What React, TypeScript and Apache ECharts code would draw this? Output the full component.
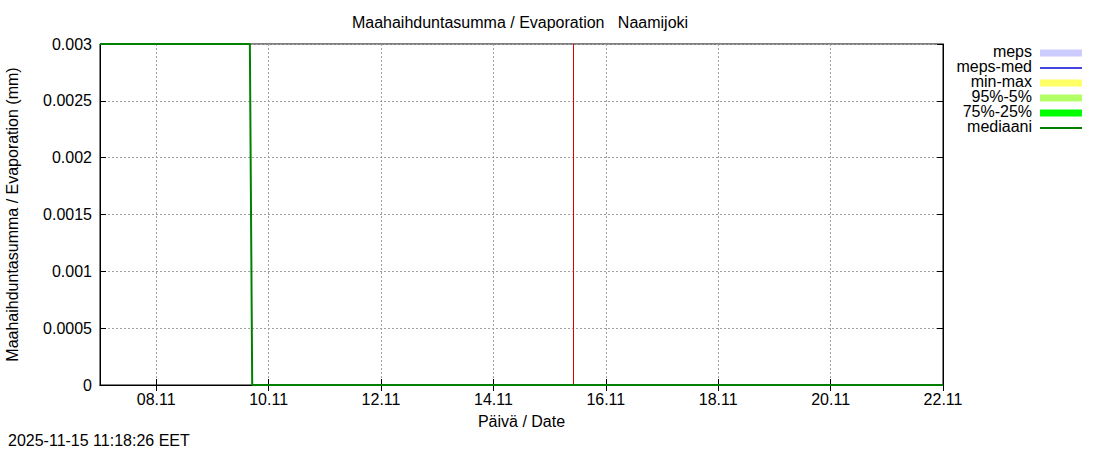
import React, { useEffect, useRef } from 'react';
import * as echarts from 'echarts';

// hourly time axis, 07.11 00:00 .. 22.11 00:00
const startDay = Date.UTC(2025, 10, 7);
const hours: string[] = [];
for (let h = 0; h <= 360; h++) {
  const d = new Date(startDay + h * 3600000);
  const dd = String(d.getUTCDate()).padStart(2, '0');
  const mm = String(d.getUTCMonth() + 1).padStart(2, '0');
  const hh = String(d.getUTCHours()).padStart(2, '0');
  hours.push(`${dd}.${mm} ${hh}:00`);
}

// mediaani breakpoints
const medianTimes = ['07.11 00:00', '09.11 16:00', '09.11 17:00', '22.11 00:00'];
const medianValues = [0.003, 0.003, 0, 0];

const nowTime = '15.11 10:00';
const yTicks = [0, 0.0005, 0.001, 0.0015, 0.002, 0.0025, 0.003];

const legendNames = ['meps', 'meps-med', 'min-max', '95%-5%', '75%-25%', 'mediaani'];
const legendColors = ['#ccccff', '#4444e0', '#ffff66', '#b3ff66', '#00ff00', '#008000'];
const legendIsLine = [false, true, false, false, false, true];

const FONT = 'Liberation Sans, Arial, sans-serif';

const showTick = (index: number) => index % 48 === 24;

const App: React.FC = () => {
  const chartRef = useRef<HTMLDivElement>(null);

  useEffect(() => {
    if (!chartRef.current) return;
    const chart = echarts.init(chartRef.current, null, { renderer: 'svg' });

    const legendGraphics: any[] = [];
    legendNames.forEach((name, i) => {
      const cy = 53 + i * 15;
      legendGraphics.push({
        type: 'text',
        x: 1032,
        y: cy - 2,
        style: {
          text: name,
          fill: '#000',
          font: `16px ${FONT}`,
          align: 'right',
          verticalAlign: 'middle',
        },
      });
      legendGraphics.push({
        type: 'rect',
        shape: legendIsLine[i]
          ? { x: 1040, y: cy - 1, width: 42, height: 2 }
          : { x: 1040, y: cy - 3.5, width: 42, height: 7 },
        style: { fill: legendColors[i] },
      });
    });

    const option: any = {
      animation: false,
      textStyle: { fontFamily: FONT },
      title: {
        text: 'Maahaihduntasumma / Evaporation\u00a0\u00a0\u00a0Naamijoki',
        left: 515,
        top: 9,
        textAlign: 'center',
        textStyle: { fontSize: 16, fontWeight: 'normal', color: '#000', fontFamily: FONT },
      },
      grid: {
        left: 100,
        right: 157,
        top: 44,
        bottom: 65,
        show: true,
        borderColor: '#000',
        borderWidth: 1,
        outerBoundsMode: 'none',
        containLabel: false,
      },
      xAxis: [
        {
          type: 'category',
          data: hours,
          boundaryGap: false,
          name: 'Päivä / Date',
          nameLocation: 'middle',
          nameGap: 28,
          nameTextStyle: { fontSize: 16, color: '#000', fontFamily: FONT },
          axisLine: { lineStyle: { color: '#000' } },
          axisTick: { inside: true, length: 6, interval: showTick, lineStyle: { color: '#000' } },
          axisLabel: {
            interval: showTick,
            margin: 6,
            fontSize: 16,
            color: '#000',
            fontFamily: FONT,
            formatter: (v: string) => v.slice(0, 5),
          },
          splitLine: {
            show: true,
            interval: showTick,
            lineStyle: { color: '#a0a0a0', type: [2, 2], width: 1 },
          },
        },
        {
          type: 'category',
          data: hours,
          boundaryGap: false,
          position: 'top',
          axisLine: { lineStyle: { color: '#000' } },
          axisTick: { inside: true, length: 6, interval: showTick, lineStyle: { color: '#000' } },
          axisLabel: { show: false },
          splitLine: { show: false },
        },
      ],
      yAxis: [
        {
          type: 'value',
          min: 0,
          max: 0.003,
          interval: 0.0005,
          name: 'Maahaihduntasumma / Evaporation (mm)',
          nameLocation: 'middle',
          nameGap: 80,
          nameTextStyle: { fontSize: 16, color: '#000', fontFamily: FONT },
          axisLine: { show: true, lineStyle: { color: '#000' } },
          axisTick: { show: true, inside: true, length: 6, lineStyle: { color: '#000' } },
          axisLabel: {
            margin: 8,
            fontSize: 16,
            color: '#000',
            fontFamily: FONT,
            formatter: (v: number) => {
              const t = yTicks.find((y) => Math.abs(y - v) < 1e-9);
              return String(t ?? v);
            },
          },
          splitLine: { show: true, lineStyle: { color: '#a0a0a0', type: [2, 2], width: 1 } },
        },
        {
          type: 'value',
          min: 0,
          max: 0.003,
          interval: 0.0005,
          position: 'right',
          axisLine: { show: true, lineStyle: { color: '#000' } },
          axisTick: { show: true, inside: true, length: 6, lineStyle: { color: '#000' } },
          axisLabel: { show: false },
          splitLine: { show: false },
        },
      ],
      series: [
        {
          name: 'mediaani',
          type: 'line',
          xAxisIndex: 0,
          yAxisIndex: 0,
          symbol: 'none',
          lineStyle: { color: '#008000', width: 2 },
          data: medianTimes.map((t, i) => [hours.indexOf(t), medianValues[i]]),
          markLine: {
            silent: true,
            symbol: 'none',
            label: { show: false },
            lineStyle: { color: '#e00000', width: 1, type: 'solid' },
            data: [{ xAxis: hours.indexOf(nowTime) }],
          },
          z: 5,
        },
      ],
      graphic: [
        {
          type: 'text',
          x: 8,
          y: 440,
          style: {
            text: '2025-11-15 11:18:26 EET',
            fill: '#000',
            font: `16px ${FONT}`,
            verticalAlign: 'middle',
          },
        },
        ...legendGraphics,
      ],
    };

    chart.setOption(option);

    return () => {
      chart.dispose();
    };
  }, []);

  return (
    <div
      ref={chartRef}
      style={{ position: 'absolute', left: 0, top: 0, width: 1100, height: 450 }}
    />
  );
};

export default App;
